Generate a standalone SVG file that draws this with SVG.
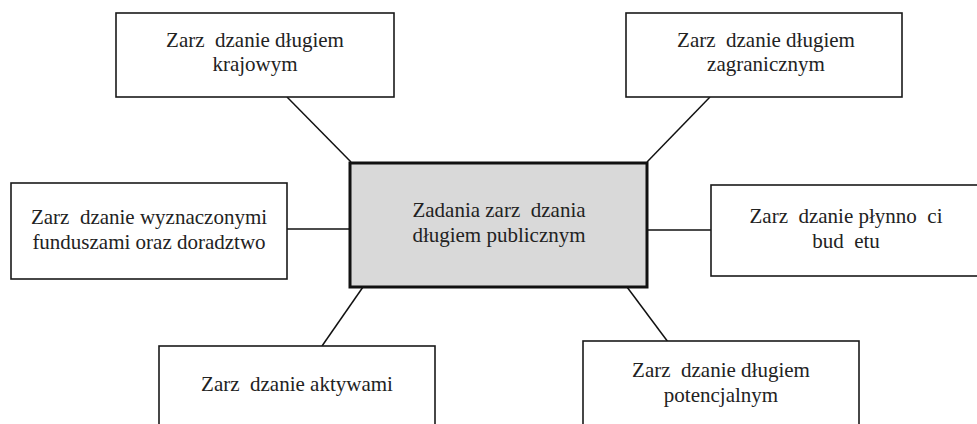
<svg xmlns="http://www.w3.org/2000/svg" width="977" height="424" viewBox="0 0 977 424">
<style>
.box{fill:#fff;stroke:#1a1a1a;stroke-width:1.6}
.main{fill:#d9d9d9;stroke:#111;stroke-width:3}
.c{stroke:#111;stroke-width:1.5;fill:none}
.t{font-family:'Liberation Serif','Times New Roman',serif;font-size:21px;fill:#222;text-anchor:middle;white-space:pre}
</style>
<rect width="977" height="424" fill="#fff"/>
<g id="connectors">
<line class="c" x1="287" y1="97" x2="351" y2="162"/>
<line class="c" x1="710" y1="97" x2="647" y2="162"/>
<line class="c" x1="287" y1="229" x2="350" y2="229"/>
<line class="c" x1="647" y1="230" x2="711" y2="230"/>
<line class="c" x1="322" y1="346" x2="363" y2="287"/>
<line class="c" x1="627" y1="287" x2="668" y2="342"/>
</g>
<g id="n-krajowy">
<rect class="box" x="116" y="13" width="278" height="84"/>
<text class="t" x="255" y="47">Zarz  dzanie długiem</text>
<text class="t" x="255" y="71">krajowym</text>
</g>
<g id="n-zagraniczny">
<rect class="box" x="626" y="13" width="276" height="84"/>
<text class="t" x="766" y="47">Zarz  dzanie długiem</text>
<text class="t" x="766" y="71">zagranicznym</text>
</g>
<g id="n-fundusze">
<rect class="box" x="11" y="183" width="276" height="96"/>
<text class="t" x="149" y="224">Zarz  dzanie wyznaczonymi</text>
<text class="t" x="149" y="249">funduszami oraz doradztwo</text>
</g>
<g id="n-center">
<rect class="main" x="350" y="163" width="297" height="124"/>
<text class="t" x="499" y="217">Zadania zarz  dzania</text>
<text class="t" x="499" y="242">długiem publicznym</text>
</g>
<g id="n-plynnosc">
<rect class="box" x="711" y="185" width="272" height="91"/>
<text class="t" x="846" y="223">Zarz  dzanie płynno  ci</text>
<text class="t" x="846" y="248">bud  etu</text>
</g>
<g id="n-aktywa">
<rect class="box" x="159" y="346" width="276" height="90"/>
<text class="t" x="297" y="391">Zarz  dzanie aktywami</text>
</g>
<g id="n-potencjalny">
<rect class="box" x="583" y="341" width="276" height="95"/>
<text class="t" x="721" y="377">Zarz  dzanie długiem</text>
<text class="t" x="721" y="402">potencjalnym</text>
</g>
</svg>
